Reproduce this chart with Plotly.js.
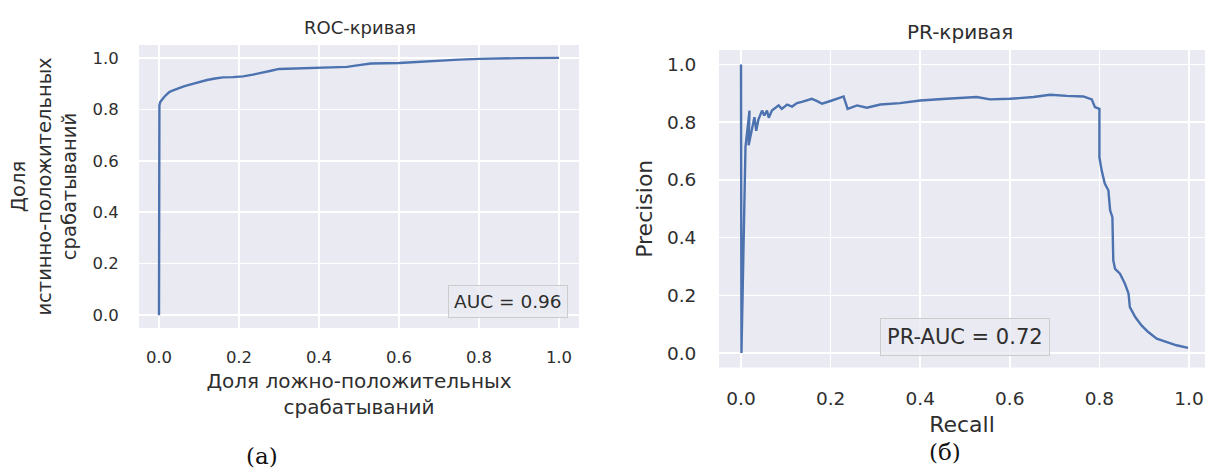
<!DOCTYPE html>
<html>
<head>
<meta charset="utf-8">
<script src="https://cdn.plot.ly/plotly-3.0.1.min.js"></script>
<style>
  html, body { margin: 0; padding: 0; background: #ffffff; }
  #chart { width: 1205px; height: 468px; }
</style>
</head>
<body>
<div id="chart"></div>
<script>
// ROC curve (left panel)
const rocFpr = [0, 0, 0.001, 0.003, 0.006, 0.010, 0.014, 0.019, 0.025, 0.032, 0.040, 0.050, 0.062, 0.075, 0.090, 0.105, 0.120, 0.140, 0.160, 0.185, 0.210, 0.235, 0.260, 0.280, 0.300, 0.350, 0.400, 0.470, 0.500, 0.530, 0.600, 0.650, 0.700, 0.750, 0.800, 0.850, 0.900, 1.0];
const rocTpr = [0, 0.800, 0.815, 0.828, 0.836, 0.842, 0.850, 0.858, 0.866, 0.872, 0.877, 0.883, 0.889, 0.895, 0.902, 0.908, 0.914, 0.920, 0.924, 0.925, 0.928, 0.935, 0.942, 0.950, 0.957, 0.960, 0.963, 0.965, 0.972, 0.978, 0.980, 0.985, 0.989, 0.993, 0.996, 0.998, 0.999, 1.0];

// PR curve (right panel)
const prRecall = [0, 0.001, 0.010, 0.019, 0.017, 0.025, 0.030, 0.034, 0.039, 0.047, 0.052, 0.058, 0.062, 0.069, 0.084, 0.091, 0.103, 0.114, 0.125, 0.136, 0.147, 0.158, 0.170, 0.181, 0.203, 0.229, 0.238, 0.259, 0.281, 0.311, 0.355, 0.400, 0.459, 0.526, 0.556, 0.600, 0.653, 0.690, 0.727, 0.764, 0.783, 0.790, 0.800, 0.800, 0.805, 0.812, 0.820, 0.824, 0.829, 0.831, 0.835, 0.846, 0.857, 0.865, 0.868, 0.880, 0.894, 0.909, 0.928, 0.950, 0.972, 0.998];
const prPrecision = [1.0, 0.0, 0.714, 0.840, 0.720, 0.780, 0.817, 0.770, 0.810, 0.840, 0.823, 0.840, 0.815, 0.840, 0.858, 0.846, 0.861, 0.854, 0.866, 0.870, 0.875, 0.881, 0.873, 0.864, 0.875, 0.889, 0.846, 0.858, 0.850, 0.861, 0.866, 0.875, 0.881, 0.887, 0.879, 0.881, 0.887, 0.895, 0.891, 0.889, 0.879, 0.852, 0.846, 0.679, 0.633, 0.587, 0.564, 0.494, 0.471, 0.321, 0.292, 0.275, 0.240, 0.206, 0.159, 0.125, 0.096, 0.073, 0.050, 0.038, 0.027, 0.018];

// Tick labels
const tickVals = [0, 0.2, 0.4, 0.6, 0.8, 1.0];
const tickText = ['0.0', '0.2', '0.4', '0.6', '0.8', '1.0'];

// Texts
const rocTitle = 'ROC-кривая';
const prTitle = 'PR-кривая';
const rocXLabel = 'Доля ложно-положительных<br>срабатываний';
const rocYLabel = 'Доля<br>истинно-положительных<br>срабатываний';
const prXLabel = 'Recall';
const prYLabel = 'Precision';
const rocAucText = 'AUC = 0.96';
const prAucText = 'PR-AUC = 0.72';
const captionA = '(а)';
const captionB = '(б)';

const W = 1205, H = 468;
const px = v => v / W;
const py = v => 1 - v / H;

const FONT = 'DejaVu Sans, Verdana, sans-serif';
const TXT = '#2e2e2e';
const LINE = '#4C72B0';

function axisCommon(fontSize) {
  return {
    showgrid: true, gridcolor: '#ffffff', gridwidth: 1.6,
    zeroline: false, showline: false,
    ticks: 'outside', tickcolor: 'rgba(0,0,0,0)',
    tickvals: tickVals, ticktext: tickText,
    tickfont: { family: FONT, size: fontSize, color: TXT },
    automargin: false, fixedrange: true
  };
}

const traces = [
  { x: rocFpr, y: rocTpr, xaxis: 'x', yaxis: 'y', type: 'scatter', mode: 'lines',
    line: { color: LINE, width: 2.4 }, showlegend: false, hoverinfo: 'skip' },
  { x: prRecall, y: prPrecision, xaxis: 'x2', yaxis: 'y2', type: 'scatter', mode: 'lines',
    line: { color: LINE, width: 2.4 }, showlegend: false, hoverinfo: 'skip' }
];

const layout = {
  width: W, height: H,
  margin: { l: 0, r: 0, t: 0, b: 0, pad: 0 },
  paper_bgcolor: '#ffffff',
  plot_bgcolor: '#EAEAF2',
  showlegend: false,
  xaxis: Object.assign(axisCommon(16.5), {
    domain: [px(139), px(579)], range: [-0.05, 1.05], anchor: 'y', ticklen: 14,
    title: { text: rocXLabel, font: { family: FONT, size: 20, color: TXT }, standoff: 8 }
  }),
  yaxis: Object.assign(axisCommon(16.5), {
    domain: [py(328), py(45)], range: [-0.05, 1.05], anchor: 'x', ticklen: 16,
    title: { text: rocYLabel, font: { family: FONT, size: 19.5, color: TXT }, standoff: 10 }
  }),
  xaxis2: Object.assign(axisCommon(18.5), {
    domain: [px(719), 1], range: [-22 / 448, (1205 - 741) / 448], anchor: 'y2', ticklen: 14,
    title: { text: prXLabel, font: { family: FONT, size: 22, color: TXT }, standoff: 8 }
  }),
  yaxis2: Object.assign(axisCommon(18.5), {
    domain: [py(367.5), py(50)], range: [-0.05, 1.05], anchor: 'x2', ticklen: 18,
    title: { text: prYLabel, font: { family: FONT, size: 22, color: TXT }, standoff: 8 }
  }),
  annotations: [
    { text: rocTitle, xref: 'paper', yref: 'paper', x: px(360), y: py(27),
      xanchor: 'center', yanchor: 'middle', showarrow: false,
      font: { family: FONT, size: 18, color: TXT } },
    { text: prTitle, xref: 'paper', yref: 'paper', x: px(960), y: py(32),
      xanchor: 'center', yanchor: 'middle', showarrow: false,
      font: { family: FONT, size: 20, color: TXT } },
    { text: rocAucText, xref: 'paper', yref: 'paper', x: px(507.5), y: py(301.5),
      xanchor: 'center', yanchor: 'middle', showarrow: false,
      font: { family: FONT, size: 18.5, color: TXT },
      bgcolor: 'rgba(234,234,242,0.8)', bordercolor: '#cccccc', borderwidth: 1, borderpad: 5 },
    { text: prAucText, xref: 'paper', yref: 'paper', x: px(965), y: py(337),
      xanchor: 'center', yanchor: 'middle', showarrow: false,
      font: { family: FONT, size: 21, color: TXT },
      bgcolor: 'rgba(234,234,242,0.8)', bordercolor: '#cccccc', borderwidth: 1, borderpad: 6 },
    { text: captionA, xref: 'paper', yref: 'paper', x: px(262), y: py(456),
      xanchor: 'center', yanchor: 'middle', showarrow: false,
      font: { family: 'DejaVu Serif, Liberation Serif, serif', size: 23, color: '#111111' } },
    { text: captionB, xref: 'paper', yref: 'paper', x: px(945), y: py(452),
      xanchor: 'center', yanchor: 'middle', showarrow: false,
      font: { family: 'DejaVu Serif, Liberation Serif, serif', size: 23, color: '#111111' } }
  ]
};

Plotly.newPlot('chart', traces, layout, { staticPlot: true, displayModeBar: false });
</script>
</body>
</html>
